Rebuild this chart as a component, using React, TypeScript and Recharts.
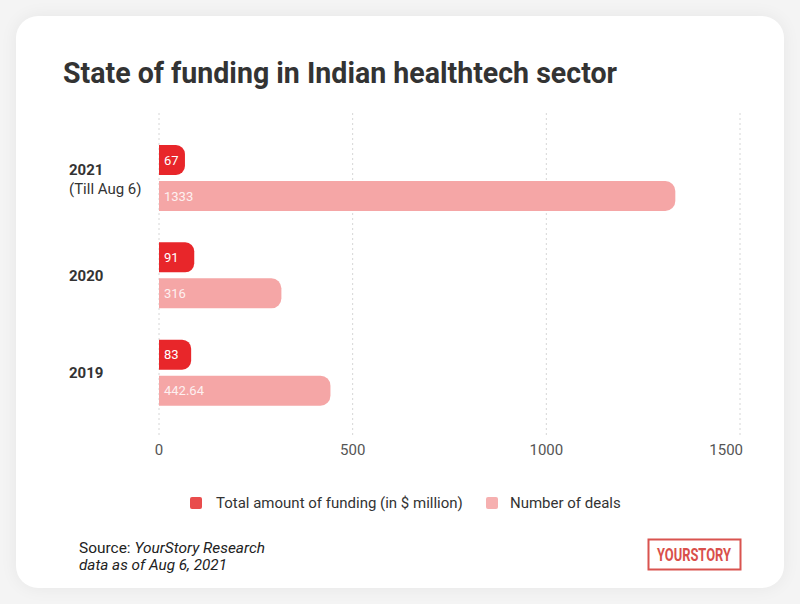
import { Bar, BarChart, CartesianGrid, LabelList, XAxis, YAxis } from 'recharts';

const years = ['2021', '2020', '2019'];
const yearNotes = ['(Till Aug 6)', '', ''];
const fundingMillions = [67, 91, 83];
const dealCount = [1333, 316, 442.64];
const xTicks = [0, 500, 1000, 1500];

const seriesNames = ['Total amount of funding (in $ million)', 'Number of deals'];
const RED = '#e8262a';
const PINK = '#f5a6a6';

const data = years.map((year, i) => ({
  year,
  note: yearNotes[i],
  funding: fundingMillions[i],
  deals: dealCount[i],
}));

const FONT = 'Roboto, "Open Sans", sans-serif';

function YearTick(props: any) {
  const { y, payload } = props;
  const note = yearNotes[years.indexOf(payload.value)];
  if (note) {
    return (
      <g>
        <text x={69} y={y - 3} fontFamily={FONT} fontSize={15} fontWeight={700} fill="#333">
          {payload.value}
        </text>
        <text x={69} y={y + 16} fontFamily={FONT} fontSize={15} fill="#333">
          {note}
        </text>
      </g>
    );
  }
  return (
    <text x={69} y={y + 6} fontFamily={FONT} fontSize={15} fontWeight={700} fill="#333">
      {payload.value}
    </text>
  );
}

function ValueTick(props: any) {
  const { x, y, payload } = props;
  const last = payload.value === xTicks[xTicks.length - 1];
  return (
    <text
      x={last ? x + 3 : x}
      y={y + 12}
      textAnchor={last ? 'end' : 'middle'}
      fontFamily={FONT}
      fontSize={15}
      fill="#555"
    >
      {payload.value}
    </text>
  );
}

export default function App() {
  return (
    <div
      style={{
        position: 'absolute',
        left: 0,
        top: 0,
        width: 800,
        height: 604,
        background: '#f4f4f4',
        overflow: 'hidden',
      }}
    >
      <div
        style={{
          position: 'absolute',
          left: 16,
          top: 16,
          width: 768,
          height: 572,
          background: '#fff',
          borderRadius: 22,
          boxShadow: '0 0 18px rgba(0,0,0,0.06)',
        }}
      />
      <div style={{ position: 'absolute', left: 0, top: 0 }}>
        <BarChart
          width={800}
          height={604}
          data={data}
          layout="vertical"
          margin={{ top: 113, right: 60, bottom: 139, left: 0 }}
          barSize={30}
          barGap={6}
        >
          <CartesianGrid stroke="#d6d6d6" strokeDasharray="2 3" horizontal={false} />
          <XAxis
            type="number"
            domain={[0, 1500]}
            ticks={xTicks}
            axisLine={false}
            tickLine={false}
            tick={<ValueTick />}
            height={30}
          />
          <YAxis
            type="category"
            dataKey="year"
            width={159}
            axisLine={false}
            tickLine={false}
            tick={<YearTick />}
            padding={{ top: 16, bottom: 14 }}
          />
          <Bar dataKey="funding" name={seriesNames[0]} fill={RED} radius={[0, 9, 9, 0]} isAnimationActive={false}>
            <LabelList dataKey="funding" position="insideLeft" offset={5} fill="#fff" fontSize={13} fontFamily={FONT} />
          </Bar>
          <Bar dataKey="deals" name={seriesNames[1]} fill={PINK} radius={[0, 10, 10, 0]} isAnimationActive={false}>
            <LabelList dataKey="deals" position="insideLeft" offset={5} fill="#fdf0f0" fontSize={13} fontFamily={FONT} />
          </Bar>
        </BarChart>
      </div>

      {/* legend */}
      {[
        { name: seriesNames[0], color: '#e94c4c', box: 190, text: 216 },
        { name: seriesNames[1], color: '#f6b0b0', box: 486, text: 510 },
      ].map((s) => (
        <div key={s.name}>
          <div
            style={{
              position: 'absolute',
              left: s.box,
              top: 497,
              width: 12,
              height: 12,
              borderRadius: 2,
              background: s.color,
            }}
          />
          <div
            style={{
              position: 'absolute',
              left: s.text,
              top: 493,
              fontFamily: FONT,
              fontSize: 15,
              lineHeight: '20px',
              color: '#333',
              whiteSpace: 'nowrap',
            }}
          >
            {s.name}
          </div>
        </div>
      ))}

      <svg width={800} height={604} style={{ position: 'absolute', left: 0, top: 0, pointerEvents: 'none' }}>
        <text
          x={63}
          y={83}
          fontFamily={FONT}
          fontSize={30}
          fontWeight={700}
          fill="#333"
          textLength={554}
          lengthAdjust="spacingAndGlyphs"
        >
          State of funding in Indian healthtech sector
        </text>
        <text x={79} y={553} fontFamily={FONT} fontSize={15} fill="#222" textLength={186} lengthAdjust="spacingAndGlyphs">
          Source: <tspan fontStyle="italic">YourStory Research</tspan>
        </text>
        <text
          x={79}
          y={570}
          fontFamily={FONT}
          fontSize={15}
          fontStyle="italic"
          fill="#222"
          textLength={148}
          lengthAdjust="spacingAndGlyphs"
        >
          data as of Aug 6, 2021
        </text>
        <rect x={648.5} y={539.5} width={92} height={30} fill="none" stroke="#d9534f" strokeWidth={2} />
        <text
          x={657}
          y={561}
          fontFamily={FONT}
          fontSize={18}
          fontWeight={700}
          fill="#d94f4b"
          textLength={74}
          lengthAdjust="spacingAndGlyphs"
        >
          YOURSTORY
        </text>
      </svg>
    </div>
  );
}
